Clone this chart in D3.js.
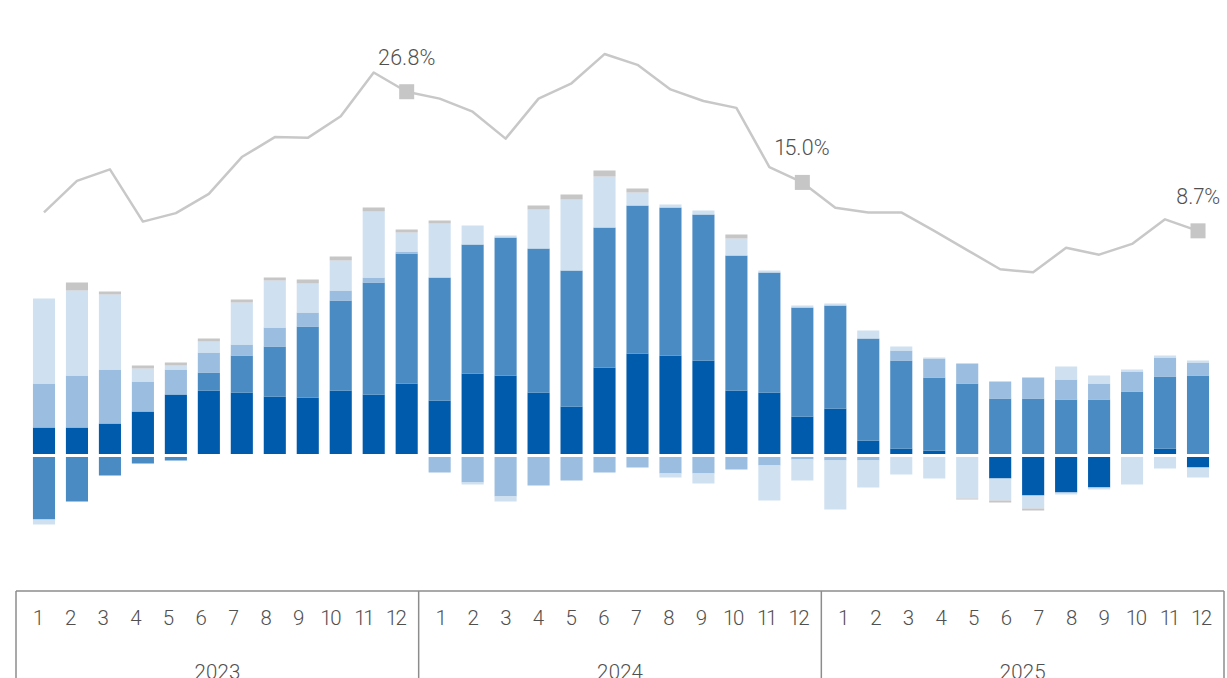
<!DOCTYPE html>
<html>
<head>
<meta charset="utf-8">
<script src="https://cdn.jsdelivr.net/npm/d3@7"></script>
<style>
  html, body { margin: 0; padding: 0; background: #fff; }
  svg { display: block; }
  text { font-family: Roboto, "Noto Sans", sans-serif; font-weight: 300; font-variant-numeric: proportional-nums; }
</style>
</head>
<body>
<svg id="chart" width="1227" height="678"></svg>
<script>
// Monthly composition bars (stacked, diverging around zero) and a growth-rate line
const years = ["2023", "2024", "2025"];
const monthLabels = ["1", "2", "3", "4", "5", "6", "7", "8", "9", "10", "11", "12"];

// Component series, one value per month (Jan 2023 - Dec 2025)
const series1 = [2.8, 2.8, 3.2, 4.4, 6.1, 6.5, 6.3, 5.9, 5.8, 6.5, 6.1, 7.2,
                 5.5, 8.2, 8.0, 6.3, 4.9, 8.8, 10.2, 10.0, 9.5, 6.5, 6.3, 3.9,
                 4.7, 1.5, 0.7, 0.5, 0, -2.3, -4.0, -3.7, -3.2, 0, 0.7, -1.2];
const series2 = [-6.4, -4.6, -2.0, -0.8, -0.5, 1.8, 3.7, 5.0, 7.1, 9.0, 11.2, 13.0,
                 12.3, 12.9, 13.8, 14.4, 13.6, 14.0, 14.8, 14.8, 14.6, 13.5, 12.0, 10.9,
                 10.3, 10.2, 8.8, 7.3, 7.2, 5.7, 5.7, 5.6, 5.6, 6.4, 7.2, 8.0];
const series3 = [4.4, 5.2, 5.4, 3.0, 2.5, 2.0, 1.1, 1.9, 1.4, 1.0, 0.5, 0.2,
                 -1.7, -2.7, -4.1, -3.0, -2.5, -1.7, -1.2, -1.8, -1.8, -1.4, -1.0, -0.4,
                 -0.5, -0.5, 1.0, 1.9, 2.0, 1.7, 2.1, 2.0, 1.6, 2.0, 1.9, 1.3];
const series4 = [8.5, 8.5, 7.5, 1.3, 0.4, 1.1, 4.2, 4.7, 2.9, 3.0, 6.6, 1.9,
                 5.4, 1.9, 0.2, 3.9, 7.1, 5.1, 1.3, 0.3, 0.4, 1.7, 0.2, 0.2,
                 0.2, 0.8, 0.4, 0.1, 0, 0, 0, 1.3, 0.8, 0.2, 0.2, 0.2];
const series5 = [-0.5, 0, 0, 0, 0, 0, 0, 0, 0, 0, 0, 0,
                 0, -0.2, -0.5, 0, 0, 0, 0, -0.4, -1.0, 0, -3.5, -2.1,
                 -4.9, -2.7, -1.9, -2.3, -4.3, -2.2, -1.3, -0.2, -0.2, -2.9, -1.3, -1.0];
const series6 = [0, 0.8, 0.3, 0.3, 0.3, 0.3, 0.3, 0.3, 0.4, 0.4, 0.4, 0.3,
                 0.3, 0, 0, 0.4, 0.5, 0.6, 0.4, 0, 0, 0.4, 0, 0,
                 0, 0, 0, 0, -0.1, -0.2, -0.2, 0, 0, 0, 0, 0];

// Year-on-year growth rate (%)
const growth = [11.1, 15.2, 16.7, 9.9, 11.0, 13.5, 18.3, 20.9, 20.8, 23.6, 29.3, 26.8,
                25.9, 24.2, 20.7, 25.9, 27.9, 31.7, 30.3, 27.1, 25.6, 24.7, 17.0, 15.0,
                11.7, 11.1, 11.1, 8.7, 6.2, 3.7, 3.3, 6.5, 5.6, 7.0, 10.2, 8.7];
// Months whose growth value is labelled (December of each year)
const labelledMonths = [11, 23, 35];

const seriesKeys = ["s1", "s2", "s3", "s4", "s5", "s6"];
const seriesColors = ["#005bac", "#4b8bc4", "#9bbddf", "#cfe0f0", "#cfe0f0", "#c6c6c6"];

const n = growth.length;
const table = d3.range(n).map(i => ({
  i, s1: series1[i], s2: series2[i], s3: series3[i],
  s4: series4[i], s5: series5[i], s6: series6[i]
}));

const svg = d3.select("#chart");

const x = d3.scaleBand()
  .domain(d3.range(n))
  .range([27.5, 1214.5])
  .paddingInner(0.33)
  .paddingOuter(0.165);

const y = d3.scaleLinear().domain([-8, 30]).range([535.5, 155.5]);
const yLine = d3.scaleLinear().domain([0, 35]).range([297.7, 28.7]);

// Stacked bars
const stacked = d3.stack()
  .keys(seriesKeys)
  .offset(d3.stackOffsetDiverging)(table);

svg.append("g").selectAll("g")
  .data(stacked)
  .join("g")
  .attr("fill", (d, k) => seriesColors[k])
  .selectAll("rect")
  .data(d => d)
  .join("rect")
  .attr("x", d => x(d.data.i))
  .attr("width", x.bandwidth())
  .attr("y", d => y(Math.max(d[0], d[1])))
  .attr("height", d => Math.abs(y(d[0]) - y(d[1])));

// White gap at the zero level
svg.append("line")
  .attr("x1", 16).attr("x2", 1224)
  .attr("y1", y(0)).attr("y2", y(0))
  .attr("stroke", "#fff")
  .attr("stroke-width", 3);

// Growth line
const xc = i => x(i) + x.bandwidth() / 2;
svg.append("path")
  .datum(growth)
  .attr("fill", "none")
  .attr("stroke", "#c8c8c8")
  .attr("stroke-width", 2.5)
  .attr("stroke-linejoin", "round")
  .attr("d", d3.line().x((d, i) => xc(i)).y(d => yLine(d)));

// Markers and labels on the December points
const marks = svg.append("g").selectAll("g")
  .data(labelledMonths)
  .join("g");
marks.append("rect")
  .attr("x", i => xc(i) - 7.5)
  .attr("y", i => yLine(growth[i]) - 7.5)
  .attr("width", 15).attr("height", 15)
  .attr("fill", "#c6c6c6");
marks.append("text")
  .attr("x", i => xc(i))
  .attr("y", i => yLine(growth[i]) - 27)
  .attr("text-anchor", "middle")
  .attr("font-size", 21.5)
  .attr("fill", "#505050")
  .text(i => growth[i].toFixed(1) + "%");

// Category axis: month row and year row inside a frame
const xa = d3.scaleLinear().domain([0, n]).range([16, 1224]);
const axis = svg.append("g");
axis.append("line")
  .attr("x1", xa(0)).attr("x2", xa(n))
  .attr("y1", 591).attr("y2", 591)
  .attr("stroke", "#8c8c8c").attr("stroke-width", 1.5);
axis.selectAll("line.div")
  .data(d3.range(years.length + 1))
  .join("line")
  .attr("class", "div")
  .attr("x1", k => xa(k * 12)).attr("x2", k => xa(k * 12))
  .attr("y1", 591).attr("y2", 678)
  .attr("stroke", "#8c8c8c").attr("stroke-width", 1.5);

years.forEach((yr, k) => {
  const x0 = xa(k * 12), x1 = xa((k + 1) * 12);
  const mx = d3.scalePoint().domain(monthLabels).range([x0 + 22, x1 - 22]);
  axis.append("g").selectAll("text")
    .data(monthLabels)
    .join("text")
    .attr("x", m => mx(m))
    .attr("y", 625)
    .attr("text-anchor", "middle")
    .attr("font-size", 20.5)
    .attr("fill", "#505050")
    .text(m => m);
  axis.append("text")
    .attr("x", (x0 + x1) / 2)
    .attr("y", 679)
    .attr("text-anchor", "middle")
    .attr("font-size", 20.5)
    .attr("fill", "#505050")
    .text(yr);
});
</script>
</body>
</html>
